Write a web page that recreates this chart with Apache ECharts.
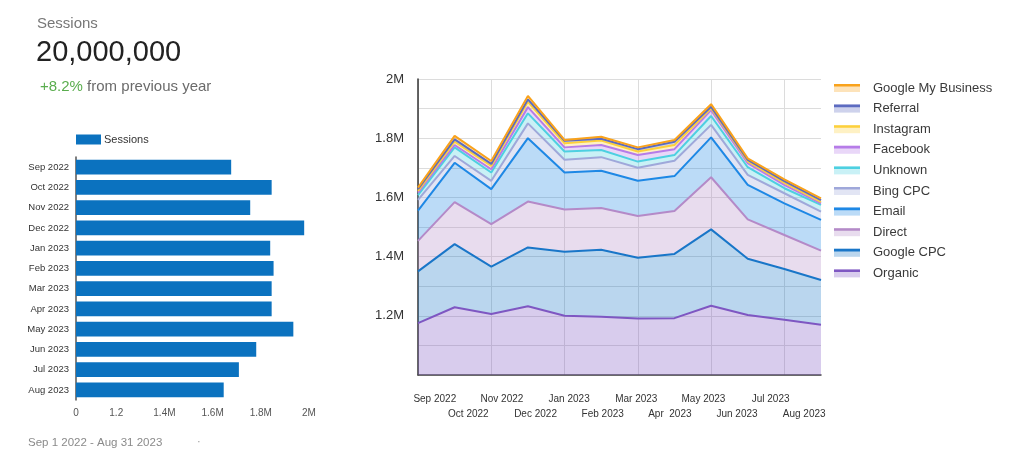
<!DOCTYPE html>
<html><head><meta charset="utf-8">
<script src="https://cdn.jsdelivr.net/npm/echarts@6/dist/echarts.min.js"></script>
<style>html,body{margin:0;padding:0;background:#fff}#c{width:1024px;height:459px}</style>
</head><body><div id="c"></div>
<script>
// ---- data ----
const barMonths = ['Sep 2022','Oct 2022','Nov 2022','Dec 2022','Jan 2023','Feb 2023','Mar 2023','Apr 2023','May 2023','Jun 2023','Jul 2023','Aug 2023'];
const sessions = [1677000, 1845000, 1756000, 1980000, 1839000, 1853000, 1845000, 1845000, 1935000, 1781000, 1709000, 1646000];
const barXTickValues = [1033000, 1200000, 1400000, 1600000, 1800000, 2000000];
const barXTickLabels = ['0', '1.2', '1.4M', '1.6M', '1.8M', '2M'];

const areaMonths = ['Sep 2022','Oct 2022','Nov 2022','Dec 2022','Jan 2023','Feb 2023','Mar 2023','Apr  2023','May 2023','Jun 2023','Jul 2023','Aug 2023'];
const areaYTickValues = [1200000, 1400000, 1600000, 1800000, 2000000];
const areaYTickLabels = ['1.2M', '1.4M', '1.6M', '1.8M', '2M'];

const organic          = [1175000, 1229000, 1206000, 1232000, 1200000, 1197000, 1191000, 1192000, 1234000, 1203000, 1187000, 1170000];
const googleCpc        = [175000, 213000, 160000, 199000, 216000, 226000, 205000, 217000, 258000, 190000, 171000, 151000];
const direct           = [103000, 142000, 144000, 155000, 143000, 141000, 141000, 145000, 176000, 133000, 115000, 99000];
const email            = [102000, 133000, 118000, 214000, 125000, 126000, 119000, 118000, 135000, 116000, 107000, 104000];
const bingCpc          = [37000, 23000, 28000, 50000, 43000, 46000, 44000, 52000, 42000, 34000, 34000, 28000];
const unknown          = [16000, 29000, 28000, 34000, 28000, 24000, 21000, 19000, 30000, 26000, 17000, 23000];
const facebook         = [8000, 8000, 11000, 21000, 14000, 17000, 22000, 20000, 20000, 14000, 11000, 5000];
const instagram        = [6000, 11000, 11000, 18000, 14000, 15000, 12000, 14000, 6000, 6000, 7000, 5000];
const referral         = [6000, 8000, 7000, 8000, 8000, 6000, 8000, 11000, 5000, 5000, 6000, 6000];
const googleMyBusiness = [5000, 12000, 10000, 12000, 3000, 7000, 6000, 6000, 9000, 5000, 6000, 6000];

const stackSeries = [
  ['Organic', organic],
  ['Google CPC', googleCpc],
  ['Direct', direct],
  ['Email', email],
  ['Bing CPC', bingCpc],
  ['Unknown', unknown],
  ['Facebook', facebook],
  ['Instagram', instagram],
  ['Referral', referral],
  ['Google My Business', googleMyBusiness]
];

// ---- styles ----
const seriesColors = {
  'Organic': '#7e57c2',
  'Google CPC': '#1976c8',
  'Direct': '#b48ac8',
  'Email': '#1e88e5',
  'Bing CPC': '#9fa8da',
  'Unknown': '#4dd0e1',
  'Facebook': '#b67ce8',
  'Instagram': '#fdd03b',
  'Referral': '#5c6bc0',
  'Google My Business': '#f9a21b'
};
function pale(hex, a) {
  const r = parseInt(hex.slice(1,3),16), g = parseInt(hex.slice(3,5),16), b = parseInt(hex.slice(5,7),16);
  return 'rgba(' + r + ',' + g + ',' + b + ',' + a + ')';
}
const FONT = '"Liberation Sans", Arial, sans-serif';
const legendOrder = stackSeries.map(s => s[0]).slice().reverse();

const legendCommon = {
  orient: 'vertical', left: 829, top: 76,
  itemWidth: 26, itemHeight: 8, itemGap: 6.6,
  itemStyle: { borderWidth: 0 },
  textStyle: { fontFamily: FONT, fontSize: 13, lineHeight: 14, color: '#3a3a3a', padding: [0, 0, 0, 8] },
  selectedMode: false
};

const chart = echarts.init(document.getElementById('c'));
chart.setOption({
  animation: false,
  backgroundColor: '#fff',
  title: [
    { text: 'Sessions', left: 32, top: 11, textStyle: { fontFamily: FONT, fontSize: 15, fontWeight: 'normal', color: '#777' } },
    { text: '20,000,000', left: 31, top: 33, textStyle: { fontFamily: FONT, fontSize: 29, fontWeight: 'normal', color: '#222' } },
    { text: '{g|+8.2%} {t|from previous year}', left: 35, top: 74,
      textStyle: { fontFamily: FONT, fontSize: 15, fontWeight: 'normal',
        rich: { g: { fontFamily: FONT, fontSize: 15, color: '#5aad4e' }, t: { fontFamily: FONT, fontSize: 15, color: '#6b6b6b' } } } },
    { text: 'Sep 1 2022 - Aug 31 2023', left: 23, top: 432, textStyle: { fontFamily: FONT, fontSize: 11.5, fontWeight: 'normal', color: '#8a8a8a' } },
    { text: '·', left: 192, top: 431, textStyle: { fontFamily: FONT, fontSize: 11, fontWeight: 'normal', color: '#999' } }
  ],
  legend: [
    { data: ['Sessions'], left: 71, top: 129, itemWidth: 25, itemHeight: 10, icon: 'rect', selectedMode: false,
      itemStyle: { borderWidth: 0 },
      textStyle: { fontFamily: FONT, fontSize: 11, color: '#333', padding: [0, 0, 0, -2] } },
    Object.assign({}, legendCommon, {
      data: legendOrder.map(n => ({ name: n, icon: 'rect', itemStyle: { color: pale(seriesColors[n], 0.3) } })),
      textStyle: Object.assign({}, legendCommon.textStyle, { color: 'rgba(0,0,0,0)' })
    }),
    Object.assign({}, legendCommon, {
      data: legendOrder.map(n => ({ name: n, icon: 'path://M0,0H26V2.6H0ZM0,7.95H0.05V8H0Z', itemStyle: { color: seriesColors[n] } }))
    })
  ],
  grid: [
    { left: 76, right: 715, top: 157, bottom: 59 },
    { left: 418, right: 203, top: 79, bottom: 84 },
    { left: 418, right: 203, top: 79, bottom: 84 }
  ],
  xAxis: [
    { gridIndex: 0, type: 'value', min: 1033000, max: 2000000,
      axisLine: { show: false }, axisTick: { show: false }, splitLine: { show: false },
      axisLabel: { customValues: barXTickValues, margin: 8, fontFamily: FONT, fontSize: 10, color: '#555',
        formatter: v => { const i = barXTickValues.indexOf(v); return i >= 0 ? barXTickLabels[i] : ''; } } },
    { gridIndex: 1, type: 'category', data: areaMonths, boundaryGap: false,
      axisLine: { lineStyle: { color: '#444', width: 1.5 } }, axisTick: { show: false },
      axisLabel: { show: false },
      splitLine: { show: true, lineStyle: { color: '#dcdcdc' } } },
    { gridIndex: 2, type: 'category', data: areaMonths, boundaryGap: true,
      axisLine: { show: false }, axisTick: { show: false }, splitLine: { show: false },
      axisLabel: { interval: 0, margin: 17, fontFamily: FONT, fontSize: 10, lineHeight: 15, color: '#333',
        formatter: (v, i) => (i % 2 ? '\n' + v : v) } }
  ],
  yAxis: [
    { gridIndex: 0, type: 'category', data: barMonths, inverse: true,
      axisLine: { lineStyle: { color: '#555', width: 1.5 } }, axisTick: { show: false },
      axisLabel: { margin: 7, fontFamily: FONT, fontSize: 9.5, color: '#333' } },
    { gridIndex: 1, type: 'value', min: 1000000, max: 2000000, interval: 100000,
      axisLine: { show: true, lineStyle: { color: '#333', width: 1.5 } }, axisTick: { show: false },
      splitLine: { lineStyle: { color: '#dcdcdc' } },
      axisLabel: { customValues: areaYTickValues, margin: 14, fontFamily: FONT, fontSize: 13, color: '#333',
        formatter: v => { const i = areaYTickValues.indexOf(v); return i >= 0 ? areaYTickLabels[i] : ''; } } },
    { gridIndex: 2, type: 'value', min: 0, max: 1, show: false }
  ],
  series: [
    { name: 'Sessions', type: 'bar', xAxisIndex: 0, yAxisIndex: 0, data: sessions,
      barCategoryGap: '28%', itemStyle: { color: '#0b72bf' } }
  ].concat(stackSeries.map(([name, vals]) => ({
    name: name, type: 'line', stack: 'total', xAxisIndex: 1, yAxisIndex: 1,
    data: vals, symbol: 'none', showSymbol: false,
    color: seriesColors[name],
    lineStyle: { width: 2, color: seriesColors[name] },
    areaStyle: { color: seriesColors[name], opacity: 0.3 }
  })))
});
</script>
</body></html>
